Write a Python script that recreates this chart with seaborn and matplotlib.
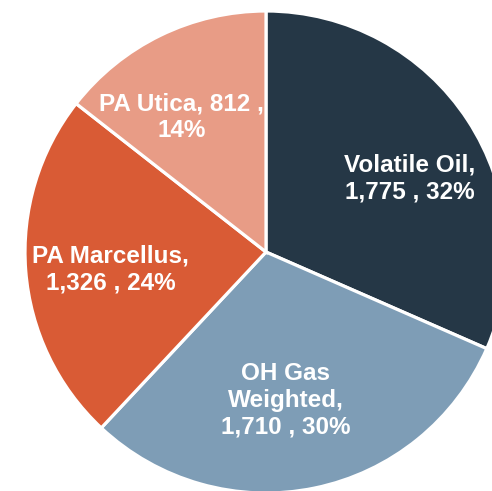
import seaborn as sns
import matplotlib.pyplot as plt
import numpy as np

sns.set_theme(style="white")
plt.rcParams['font.family'] = ['Liberation Sans', 'DejaVu Sans']

categories = ['Volatile Oil', 'OH Gas Weighted', 'PA Marcellus', 'PA Utica']
values = [1775, 1710, 1326, 812]
pct_labels = ['32%', '30%', '24%', '14%']
label_text = ['Volatile Oil,\n1,775 , 32%',
              'OH Gas\nWeighted,\n1,710 , 30%',
              'PA Marcellus,\n1,326 , 24%',
              'PA Utica, 812 ,\n14%']
colors = sns.color_palette(['#253746', '#7e9db6', '#d95b35', '#e89c86'])

W, H = 492, 491
fig = plt.figure(figsize=(W / 100, H / 100), dpi=100)
ax = fig.add_axes([0, 0, 1, 1])

cx, cy, r = 266, H - 252, 241
wedges, _ = ax.pie(values, colors=colors, startangle=90, counterclock=False,
                   radius=r, center=(cx, cy),
                   wedgeprops=dict(edgecolor='white', linewidth=2.3))

# label placement: (radial fraction, angle offset in degrees) per wedge
label_pos = [(0.67, -6), (0.62, -4), (0.65, 2), (0.66, 6)]
for w, txt, (frac, dth) in zip(wedges, label_text, label_pos):
    mid = np.deg2rad((w.theta1 + w.theta2) / 2 + dth)
    ax.text(cx + frac * r * np.cos(mid), cy + frac * r * np.sin(mid), txt,
            ha='center', va='center', color='white', fontsize=17.5,
            fontweight='bold', linespacing=1.2)

ax.set_xlim(0, W)
ax.set_ylim(0, H)
ax.set_aspect('equal')
ax.axis('off')
fig.savefig('out.png', dpi=100)
